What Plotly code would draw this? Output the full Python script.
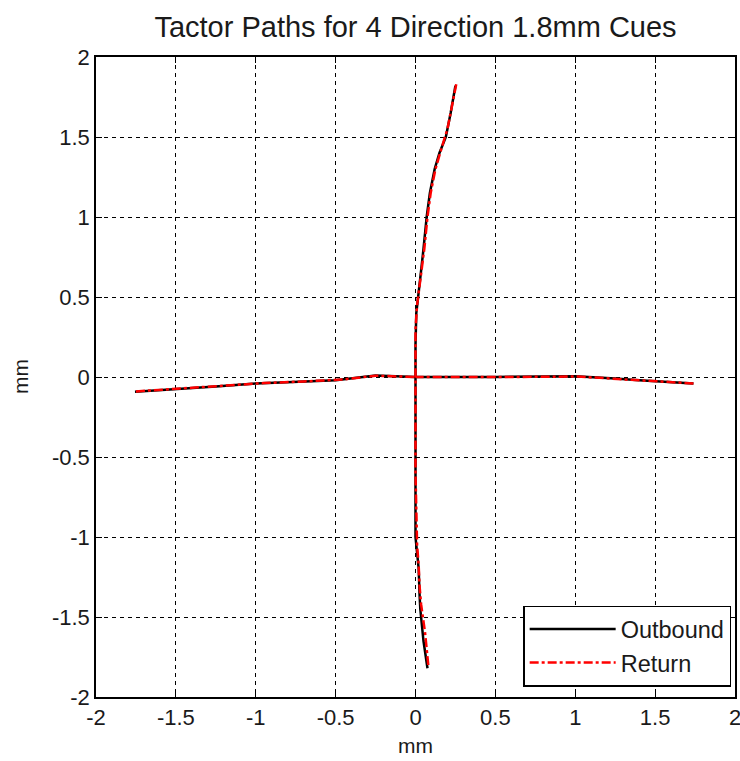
import plotly.graph_objects as go

# ---- data (mm) ----
up_out_x = [0, 0, 0.005, 0.01, 0.02, 0.03, 0.05, 0.07, 0.09, 0.12, 0.15, 0.19, 0.22, 0.25]
up_out_y = [0, 0.2, 0.4, 0.45, 0.55, 0.62, 0.8, 1.0, 1.15, 1.3, 1.4, 1.5, 1.65, 1.82]
up_ret_x = [0.255, 0.23, 0.2, 0.16, 0.125, 0.095, 0.075, 0.055, 0.035, 0.02, 0.01, 0, 0]
up_ret_y = [1.83, 1.7, 1.55, 1.42, 1.3, 1.15, 1.0, 0.8, 0.65, 0.55, 0.45, 0.3, 0]

dn_out_x = [0, 0, 0, 0.01, 0.02, 0.025, 0.03, 0.05, 0.075]
dn_out_y = [0, -0.5, -1.0, -1.1, -1.2, -1.35, -1.45, -1.65, -1.82]
dn_ret_x = [0.08, 0.06, 0.035, 0.025, 0.02, 0.01, 0, 0]
dn_ret_y = [-1.8, -1.6, -1.42, -1.3, -1.18, -1.05, -0.6, 0]

lf_out_x = [0, -0.25, -0.5, -0.75, -1.0, -1.25, -1.5, -1.756]
lf_out_y = [0, 0.01, -0.02, -0.03, -0.04, -0.06, -0.077, -0.092]
lf_ret_x = [-1.75, -1.45, -1.2, -0.95, -0.7, -0.45, -0.25, 0]
lf_ret_y = [-0.09, -0.072, -0.055, -0.038, -0.028, -0.015, 0.008, 0]

rt_out_x = [0, 0.5, 1.0, 1.12, 1.25, 1.4, 1.55, 1.74]
rt_out_y = [0, 0, 0.005, 0.0, -0.01, -0.02, -0.03, -0.04]
rt_ret_x = [1.74, 1.5, 1.3, 1.15, 1.0, 0.6, 0.2, 0]
rt_ret_y = [-0.04, -0.028, -0.015, -0.005, 0.003, 0.0, 0.0, 0]

x_ticks = [-2, -1.5, -1, -0.5, 0, 0.5, 1, 1.5, 2]
y_ticks = [-2, -1.5, -1, -0.5, 0, 0.5, 1, 1.5, 2]


def join(*segs):
    out = []
    for i, s in enumerate(segs):
        if i:
            out.append(None)
        out.extend(s)
    return out


out_x = join(up_out_x, dn_out_x, lf_out_x, rt_out_x)
out_y = join(up_out_y, dn_out_y, lf_out_y, rt_out_y)
ret_x = join(up_ret_x, dn_ret_x, lf_ret_x, rt_ret_x)
ret_y = join(up_ret_y, dn_ret_y, lf_ret_y, rt_ret_y)

FONT = "Liberation Sans, Arial, sans-serif"
TXT = "#1a1a1a"

fig = go.Figure()
fig.add_trace(go.Scatter(x=out_x, y=out_y, mode="lines", name="Outbound",
                         line=dict(color="black", width=2.5)))
fig.add_trace(go.Scatter(x=ret_x, y=ret_y, mode="lines", name="Return",
                         line=dict(color="#ff0000", width=2.5, dash="dashdot")))

axis_common = dict(
    showgrid=True, gridcolor="black", gridwidth=1, griddash="4px,4px",
    zeroline=False, showline=True, linecolor="black", linewidth=1.5,
    mirror="ticks", ticks="inside", ticklen=6, tickcolor="black",
    tickfont=dict(family=FONT, size=22, color=TXT), automargin=False,
)

fig.update_xaxes(range=[-2, 2], tickvals=x_ticks,
                 ticktext=[f"{v:g}" for v in x_ticks], **axis_common)
fig.update_yaxes(range=[-2, 2], tickvals=y_ticks,
                 ticktext=[f"{v:g}" for v in y_ticks], **axis_common)

fig.update_layout(
    width=740, height=761,
    margin=dict(l=96, r=5, t=57, b=64),
    paper_bgcolor="white", plot_bgcolor="white",
    font=dict(family=FONT, color=TXT),
    title=dict(text="Tactor Paths for 4 Direction 1.8mm Cues",
               x=0.5, xref="paper", xanchor="center", y=1 - 27 / 761, yanchor="middle",
               yref="container", font=dict(family=FONT, size=29, color=TXT)),
    showlegend=True,
    legend=dict(x=0.994, y=0.016, xanchor="right", yanchor="bottom",
                bgcolor="white", bordercolor="black", borderwidth=1.5,
                font=dict(family=FONT, size=23.5, color=TXT),
                itemwidth=86, tracegroupgap=0),
    annotations=[
        dict(text="mm", x=0.5, xref="paper", y=-48 / 640, yref="paper",
             xanchor="center", yanchor="middle", showarrow=False,
             font=dict(family=FONT, size=21, color=TXT)),
        dict(text="mm", x=-76 / 639, xref="paper", y=0.5, yref="paper",
             xanchor="center", yanchor="middle", showarrow=False, textangle=-90,
             font=dict(family=FONT, size=21, color=TXT)),
        # last x tick label, which runs past the right edge of the page
        dict(text=f"{x_ticks[-1]:g}", x=x_ticks[-1], xref="x", y=-20 / 640, yref="paper",
             xanchor="center", yanchor="middle", showarrow=False,
             font=dict(family=FONT, size=22, color=TXT)),
    ],
)

fig.write_html("out.html")
